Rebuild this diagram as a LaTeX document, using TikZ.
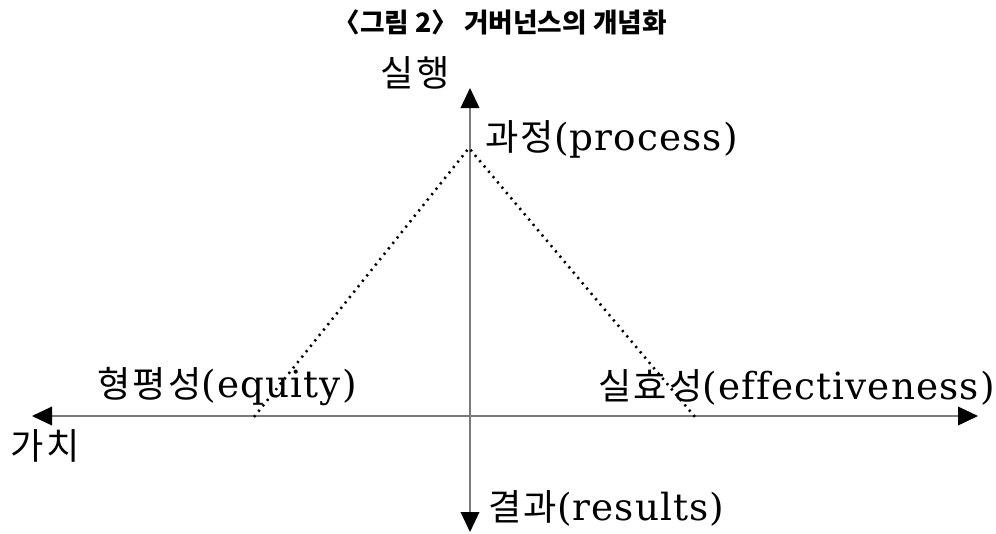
\documentclass[tikz,border=0pt]{standalone}
\usepackage{fontspec}
\setmainfont{DejaVu Serif}[LetterSpace=3, Ligatures=NoCommon]
\newfontfamily\kr{Noto Sans CJK KR}[Scale=0.97, LetterSpace=6]
\newfontfamily\krtitle{Noto Sans CJK KR}
\usetikzlibrary{arrows.meta}
\definecolor{caxis}{HTML}{7A7A7A}
\tikzset{
  every picture/.style={x=0.75pt, y=-0.75pt},
  axis/.style={draw=caxis, line width=1.1pt, {Triangle[length=15pt, width=14pt, color=black]}-{Triangle[length=15pt, width=14pt, color=black]}},
  edge/.style={draw=black, line width=1.9pt, dash pattern=on 1.6pt off 3.6pt},
  axislabel/.style={font=\fontsize{28}{32}\selectfont, inner sep=0pt, anchor=base west},
  title/.style={font=\krtitle\bfseries\fontsize{20}{23}\selectfont, inner sep=0pt},
}

\begin{document}
\begin{tikzpicture}
  \useasboundingbox (0,0) rectangle (996,533);
  \node[title] (title) at (500,22) {〈그림 2〉 거버넌스의 개념화};
  % axes
  \coordinate (top) at (470,88);
  \coordinate (bottom) at (470,532);
  \coordinate (left) at (32,416);
  \coordinate (right) at (978,416);
  \draw[axis] (bottom) -- (top);
  \draw[axis] (left) -- (right);
  % triangle
  \coordinate (apex) at (469,148);
  \coordinate (eq) at (254,417);
  \coordinate (ef) at (695,417);
  \draw[edge] (eq) -- (apex) -- (ef);
  % labels
  \node[axislabel, anchor=center] (exec) at (415,73) {\kr 실행};
  \node[axislabel, anchor=center] (value) at (45,446) {\kr 가치};
  \node[axislabel] (process) at (485,150) {{\kr 과정}(process)};
  \node[axislabel] (equity) at (97,397) {{\kr 형평성}(equity)};
  \node[axislabel] (effect) at (598,399) {{\kr 실효성}(effectiveness)};
  \node[axislabel] (results) at (488,520) {{\kr 결과}(results)};
\end{tikzpicture}
\end{document}
